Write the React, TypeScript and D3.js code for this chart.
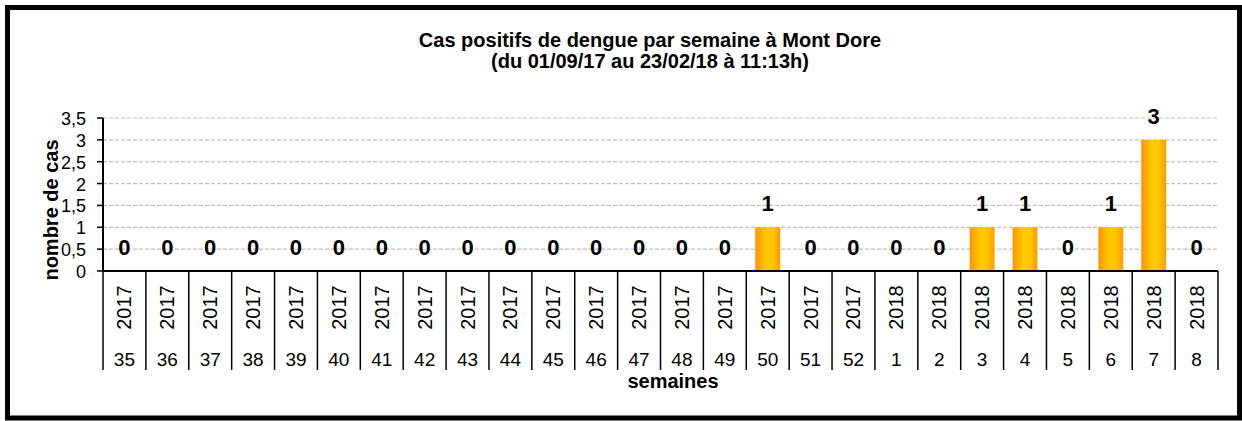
import React, { useEffect, useRef } from 'react';
import * as d3 from 'd3';

// Données
const years = [
  '2017', '2017', '2017', '2017', '2017', '2017', '2017', '2017', '2017',
  '2017', '2017', '2017', '2017', '2017', '2017', '2017', '2017', '2017',
  '2018', '2018', '2018', '2018', '2018', '2018', '2018', '2018',
];
const weeks = [
  '35', '36', '37', '38', '39', '40', '41', '42', '43', '44', '45', '46', '47',
  '48', '49', '50', '51', '52', '1', '2', '3', '4', '5', '6', '7', '8',
];
const cases = [0, 0, 0, 0, 0, 0, 0, 0, 0, 0, 0, 0, 0, 0, 0, 1, 0, 0, 0, 0, 1, 1, 0, 1, 3, 0];
const yTicks = [0, 0.5, 1, 1.5, 2, 2.5, 3, 3.5];

const titleLines = [
  'Cas positifs de dengue par semaine à Mont Dore',
  '(du 01/09/17 au 23/02/18 à 11:13h)',
];

const App = () => {
  const svgRef = useRef<SVGSVGElement | null>(null);
  const width = 1242;
  const height = 421;
  const margin = { left: 103, right: 24, top: 118, bottom: 150 };

  useEffect(() => {
    const svg = d3.select(svgRef.current);
    svg.selectAll('*').remove();
    const font = 'Arial, "Liberation Sans", sans-serif';

    const ids = weeks.map((w, i) => years[i] + '-' + w);
    const x = d3.scaleBand<string>()
      .domain(ids)
      .range([margin.left, width - margin.right])
      .paddingInner(0.42)
      .paddingOuter(0.21);
    const y = d3.scaleLinear().domain([0, 3.5]).range([271, margin.top]);
    const step = x.step();
    const pad = (step * 0.42) / 2;

    // dégradé des barres
    const grad = svg.append('defs').append('linearGradient')
      .attr('id', 'barGrad')
      .attr('x1', '0%').attr('x2', '100%').attr('y1', '0%').attr('y2', '0%');
    grad.append('stop').attr('offset', '0%').attr('stop-color', '#ff9300');
    grad.append('stop').attr('offset', '45%').attr('stop-color', '#ffcc00');
    grad.append('stop').attr('offset', '70%').attr('stop-color', '#ffc600');
    grad.append('stop').attr('offset', '100%').attr('stop-color', '#ff9a00');

    // cadre
    svg.append('rect')
      .attr('x', 7.5).attr('y', 7.5)
      .attr('width', 1232).attr('height', 410.5)
      .attr('fill', 'white')
      .attr('stroke', 'black')
      .attr('stroke-width', 5);

    // titre
    svg.append('g')
      .selectAll('text')
      .data(titleLines)
      .enter().append('text')
        .attr('x', 650)
        .attr('y', (d, i) => 47 + i * 21)
        .attr('text-anchor', 'middle')
        .style('font-family', font)
        .style('font-size', '20px')
        .style('font-weight', 'bold')
        .text((d) => d);

    // quadrillage
    svg.append('g')
      .selectAll('line')
      .data(yTicks.filter((t) => t > 0))
      .enter().append('line')
        .attr('x1', margin.left).attr('x2', width - margin.right)
        .attr('y1', (d) => y(d)).attr('y2', (d) => y(d))
        .attr('stroke', '#c0c0c0')
        .attr('stroke-width', 1.2)
        .attr('stroke-dasharray', '4,2');

    // axe y
    const yAxis = svg.append('g');
    yAxis.append('line')
      .attr('x1', margin.left).attr('x2', margin.left)
      .attr('y1', y(3.5)).attr('y2', y(0))
      .attr('stroke', 'black').attr('stroke-width', 2);
    yAxis.selectAll('line.tick')
      .data(yTicks)
      .enter().append('line')
        .attr('class', 'tick')
        .attr('x1', margin.left - 6).attr('x2', margin.left)
        .attr('y1', (d) => y(d)).attr('y2', (d) => y(d))
        .attr('stroke', 'black').attr('stroke-width', 1.5);
    yAxis.selectAll('text')
      .data(yTicks)
      .enter().append('text')
        .attr('x', 86)
        .attr('y', (d) => y(d) + 7)
        .attr('text-anchor', 'end')
        .style('font-family', font)
        .style('font-size', '18px')
        .text((d) => String(d).replace('.', ','));

    // barres
    svg.append('g')
      .selectAll('rect')
      .data(cases)
      .enter().append('rect')
        .attr('x', (d, i) => x(ids[i]) as number)
        .attr('y', (d) => y(d))
        .attr('width', x.bandwidth())
        .attr('height', (d) => y(0) - y(d))
        .attr('fill', 'url(#barGrad)');

    // étiquettes de valeurs
    svg.append('g')
      .selectAll('text')
      .data(cases)
      .enter().append('text')
        .attr('x', (d, i) => (x(ids[i]) as number) + x.bandwidth() / 2)
        .attr('y', (d) => y(d) - 16)
        .attr('text-anchor', 'middle')
        .style('font-family', font)
        .style('font-size', '22px')
        .style('font-weight', 'bold')
        .text((d) => d);

    // axe x
    const xAxis = svg.append('g');
    xAxis.append('line')
      .attr('x1', margin.left).attr('x2', width - margin.right)
      .attr('y1', y(0)).attr('y2', y(0))
      .attr('stroke', 'black').attr('stroke-width', 2);
    const bounds = ids.map((id) => (x(id) as number) - pad).concat([width - margin.right]);
    xAxis.selectAll('line.div')
      .data(bounds)
      .enter().append('line')
        .attr('class', 'div')
        .attr('x1', (d) => d).attr('x2', (d) => d)
        .attr('y1', y(0)).attr('y2', 370)
        .attr('stroke', 'black').attr('stroke-width', 1.5);
    xAxis.selectAll('text.year')
      .data(years)
      .enter().append('text')
        .attr('class', 'year')
        .attr('transform', (d, i) => {
          const cx = (x(ids[i]) as number) + x.bandwidth() / 2;
          return `translate(${cx + 7},307.5) rotate(-90)`;
        })
        .attr('text-anchor', 'middle')
        .style('font-family', font)
        .style('font-size', '20px')
        .text((d) => d);
    xAxis.selectAll('text.week')
      .data(weeks)
      .enter().append('text')
        .attr('class', 'week')
        .attr('x', (d, i) => (x(ids[i]) as number) + x.bandwidth() / 2)
        .attr('y', 366)
        .attr('text-anchor', 'middle')
        .style('font-family', font)
        .style('font-size', '19px')
        .text((d) => d);

    // titres des axes
    svg.append('text')
      .attr('x', 673).attr('y', 388)
      .attr('text-anchor', 'middle')
      .style('font-family', font)
      .style('font-size', '20px')
      .style('font-weight', 'bold')
      .text('semaines');
    svg.append('text')
      .attr('transform', 'translate(58,210) rotate(-90)')
      .attr('text-anchor', 'middle')
      .style('font-family', font)
      .style('font-size', '20px')
      .style('font-weight', 'bold')
      .text('nombre de cas');
  }, []);

  return (
    <>
      <style>{'body{margin:0}'}</style>
      <svg ref={svgRef} width={width} height={height} style={{ display: 'block' }} />
    </>
  );
};

export default App;
